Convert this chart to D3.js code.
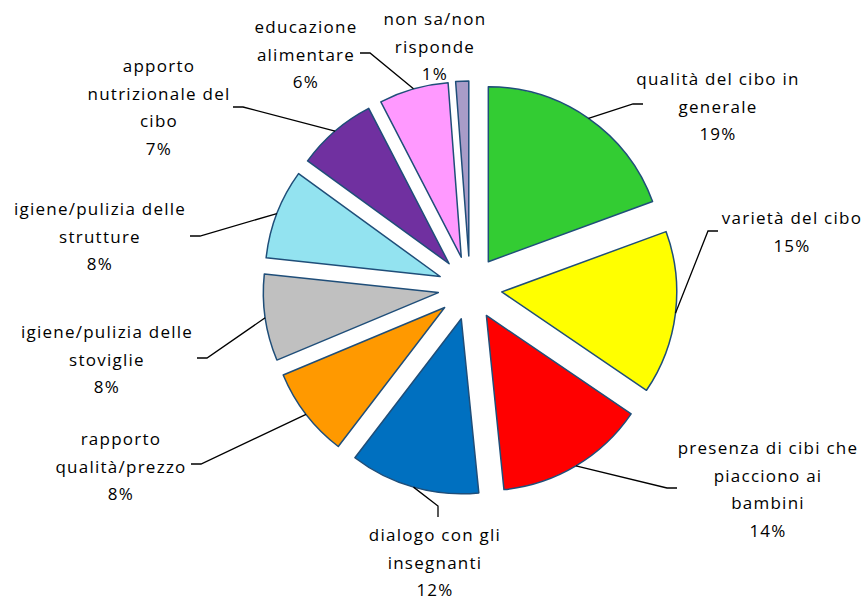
<!DOCTYPE html>
<html>
<head>
<meta charset="utf-8">
<script src="https://cdn.jsdelivr.net/npm/d3@7"></script>
<style>
  body { margin: 0; background: #fff; }
  .label { font-family: "Open Sans", Lato, sans-serif; font-size: 17px; letter-spacing: 1.25px; fill: #000; }
  .leader { fill: none; stroke: #000; stroke-width: 1.3; }
  .slice { stroke: #1f4e79; stroke-width: 1.5; stroke-linejoin: round; }
</style>
</head>
<body>
<div id="chart"></div>
<script>
// categories, in clockwise order starting at 12 o'clock
const categories = [
  'qualità del cibo in\ngenerale',
  'varietà del cibo',
  'presenza di cibi che\npiacciono ai\nbambini',
  'dialogo con gli\ninsegnanti',
  'rapporto\nqualità/prezzo',
  'igiene/pulizia delle\nstoviglie',
  'igiene/pulizia delle\nstrutture',
  'apporto\nnutrizionale del\ncibo',
  'educazione\nalimentare',
  'non sa/non\nrisponde'
];
// share of answers (%)
const values = [19.4, 15.1, 13.9, 12.0, 8.3, 8.0, 8.3, 7.4, 6.4, 1.2];
const colors = ['#33cc33', '#ffff00', '#ff0000', '#0070c0', '#ff9900',
                '#c0c0c0', '#93e3f0', '#7030a0', '#ff99ff', '#a89cc8'];

// where each data label sits (center x, first baseline) and its short leader stub
const labelLayout = [
  {x: 718, y: 85,  stub: [[643, 104], [633, 104]]},
  {x: 792, y: 224, stub: [[718, 231], [708, 231]]},
  {x: 768, y: 454, stub: [[677, 488], [667, 488]]},
  {x: 435, y: 541, stub: [[438, 517], [438, 506]]},
  {x: 121, y: 445, stub: [[191, 464], [201, 464]]},
  {x: 107, y: 338, stub: [[197, 358], [207, 358]]},
  {x: 100, y: 215, stub: [[190, 236], [200, 236]]},
  {x: 159, y: 72,  stub: [[233, 107], [243, 107]]},
  {x: 306, y: 33,  stub: [[360, 53], [370, 53]]},
  {x: 435, y: 25,  stub: null}
];

const config = {
  width: 865,
  height: 601,
  cx: 470,
  cy: 288,
  radius: 175,
  explode: 32,
  lineHeight: 27.5
};

const data = categories.map((c, i) => ({name: c, value: values[i], color: colors[i], layout: labelLayout[i]}));
const total = d3.sum(values);

const svg = d3.select('#chart').append('svg')
    .attr('width', config.width)
    .attr('height', config.height);

const chart = svg.append('g')
    .attr('transform', `translate(${config.cx},${config.cy})`);

const pie = d3.pie().sort(null).value(d => d.value);
const arc = d3.arc().innerRadius(0).outerRadius(config.radius);
const arcs = pie(data);

const midAngle = d => (d.startAngle + d.endAngle) / 2;

// exploded slices
chart.selectAll('.slice')
    .data(arcs)
  .join('path')
    .attr('class', 'slice')
    .attr('fill', d => d.data.color)
    .attr('transform', d => {
      const a = midAngle(d);
      return `translate(${config.explode * Math.sin(a)},${-config.explode * Math.cos(a)})`;
    })
    .attr('d', arc);

// leader lines: label stub -> middle of the slice's outer arc
svg.selectAll('.leader')
    .data(arcs.filter(d => d.data.layout.stub))
  .join('path')
    .attr('class', 'leader')
    .attr('d', d => {
      const a = midAngle(d);
      const r = config.radius + config.explode;
      const pts = d.data.layout.stub.concat([[config.cx + r * Math.sin(a), config.cy - r * Math.cos(a)]]);
      return d3.line()(pts);
    });

// data labels: category name + percentage
const fmt = v => Math.round(v / total * 100) + '%';
const labels = svg.selectAll('.label')
    .data(arcs)
  .join('text')
    .attr('class', 'label')
    .attr('text-anchor', 'middle')
    .attr('x', d => d.data.layout.x)
    .attr('y', d => d.data.layout.y);

labels.selectAll('tspan')
    .data(d => d.data.name.split('\n').concat([fmt(d.data.value)]).map(t => ({t, x: d.data.layout.x})))
  .join('tspan')
    .attr('x', d => d.x)
    .attr('dy', (d, i) => i === 0 ? 0 : config.lineHeight)
    .text(d => d.t);
</script>
</body>
</html>
